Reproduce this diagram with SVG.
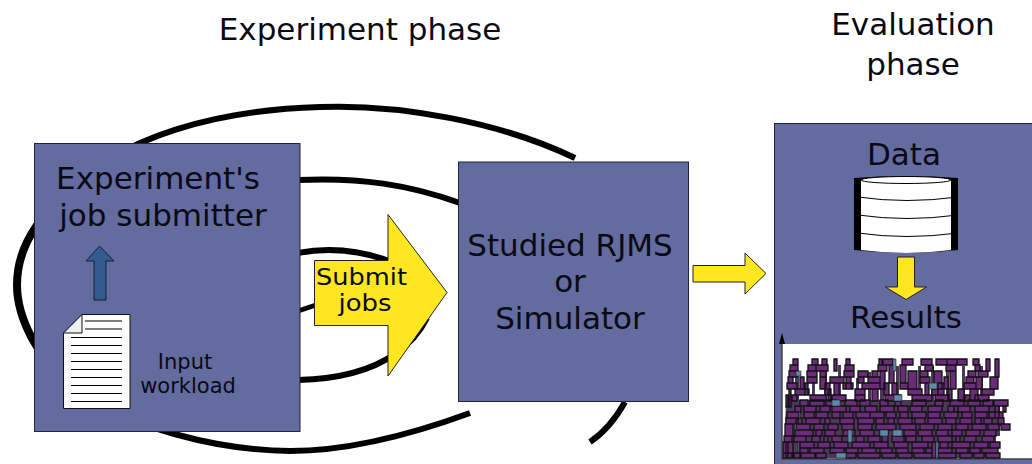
<svg xmlns="http://www.w3.org/2000/svg" width="1032" height="464" viewBox="0 0 1032 464">
<style>
text{font-family:"DejaVu Sans",sans-serif;fill:#0a0a14;text-anchor:middle}
.box{fill:#646b9f;stroke:#20233c;stroke-width:1}
.sp{fill:none;stroke:#000}
.y{fill:#fee620;stroke:#222;stroke-width:1}
.ln{stroke:#000;stroke-width:1;fill:none}
</style>
<rect width="1032" height="464" fill="#fff"/>
<g id="connectors">
<path class="sp" stroke-width="6" d="M575 158C500 122 400 104 320 107C220 110 120 135 65 195" />
<path class="sp" stroke-width="8" d="M65 195C30 225 17 255 17 285C17 320 40 360 70 385"/>
<path class="sp" stroke-width="6" d="M70 385C130 430 220 450 290 451C350 451 410 435 470 413"/>
<path class="sp" stroke-width="6" d="M590 442C605 432 616 418 625 402"/>
<path class="sp" stroke-width="6" d="M298 180C360 177 410 185 460 203"/>
<path class="sp" stroke-width="6" d="M298 253C330 247 360 250 392 262"/>
<path class="sp" stroke-width="6" d="M298 380C340 379 372 370 395 354C410 344 420 332 427 318"/>
<path class="sp" stroke-width="5" d="M298 311L316 305"/>
</g>
<g id="experiment-submitter">
<rect class="box" x="34.500" y="143.500" width="265.500" height="288"/>
<text x="158" y="189" font-size="31">Experiment's</text>
<text x="163" y="226" font-size="31">job submitter</text>
<path d="M94 300V261H86L99.700 246L114 261H106V300Z" fill="#355a8e" stroke="#14203c"/>
<path d="M63.500 333L82 314.500H130V408.500H63.500Z" fill="#fff" stroke="#111"/>
<path d="M63.500 333L82 314.500V333Z" fill="#f1f1f1" stroke="#111"/>
<path class="ln" d="M85 321H122M85 329H122M71 337.500H122M71 345.500H122M71 353.500H122M71 361.500H122M71 369.500H122M71 377.500H122M71 385.500H122M71 393.500H122M71 401.500H122"/>
<text x="185" y="369" font-size="21">Input</text>
<text x="188" y="393" font-size="21">workload</text>
</g>
<g id="submit-jobs">
<path class="y" d="M314.500 260.500H388V214.500L447 292.500L388 376V325.500H314.500Z"/>
<text x="361.500" y="285" font-size="23" textLength="91" lengthAdjust="spacingAndGlyphs">Submit</text>
<text x="365" y="311" font-size="23" textLength="53" lengthAdjust="spacingAndGlyphs">jobs</text>
</g>
<g id="studied-rjms">
<rect class="box" x="458.500" y="162" width="230" height="239.500"/>
<text x="570" y="256" font-size="31">Studied RJMS</text>
<text x="570" y="292" font-size="31">or</text>
<text x="570" y="329" font-size="31">Simulator</text>
</g>
<path class="y" d="M693 265.500H745V253L766 273.500L745 294V282H693Z"/>
<g id="evaluation">
<rect class="box" x="774.500" y="123.500" width="270" height="350"/>
<text x="904" y="165" font-size="31">Data</text>
<path d="M854 178Q906 174 958 178V250Q906 256 854 250Z" fill="#000"/>
<path d="M861 180V250Q906 256 951 250V180Z" fill="#fff"/>
<ellipse cx="906" cy="180" rx="45" ry="3.500" fill="#fff" stroke="#000"/>
<path class="ln" d="M858 197Q906 204 958 197M858 215Q906 222 958 215M858 233Q906 240 958 233"/>
<path d="M897.500 257H914.500V287H926.500L906 299.500L885.500 287H897.500Z" fill="#fee620" stroke="#222"/>
<text x="906" y="328" font-size="31">Results</text>
<rect x="782" y="344" width="250" height="115" fill="#fff"/>
<path d="M782 344V459H1032" fill="none" stroke="#444" stroke-width="1.500"/>
<path d="M782 344V336" stroke="#000" stroke-width="1"/>
<path d="M779 344L782 333L785 344Z" fill="#000"/>
<path fill="#4a3a58" d="M786 400h214v20h4v6h-4v10h-4v22h-212zM795 370h4v30h-4zM812 372h3v28h-3zM824 372h3v28h-3zM838 365h3v35h-3zM856 378h3v22h-3zM868 372h3v28h-3zM880 365h4v35h-4zM896 366h3v34h-3zM918 366h3v34h-3zM931 366h3v34h-3zM946 366h3v34h-3zM962 366h3v34h-3zM980 366h3v34h-3z"/>
<path fill="#6a2c78" stroke="#111" stroke-width="1.300" d="M793 359h5v6h-5zM812 359h6v6h-6zM822 359h5v6h-5zM834 359h3v12h-3zM846 359h4v6h-4zM879 359h3v6h-3zM883 359h10v6h-10zM902 359h11v6h-11zM921 359h11v6h-11zM936 359h11v6h-11zM947 359h10v6h-10zM957 359h10v6h-10zM973 359h6v6h-6zM986 359h4v12h-4zM995 359h4v18h-4z
M790 365h8v6h-8zM808 365h8v6h-8zM816 365h12v6h-12zM845 365h9v6h-9zM878 365h9v6h-9zM889 365h5v18h-5zM900 365h6v18h-6zM925 365h8v6h-8zM946 365h10v6h-10zM975 365h5v6h-5z
M789 371h8v6h-8zM807 371h10v6h-10zM820 371h6v6h-6zM844 371h10v6h-10zM858 371h10v6h-10zM872 371h6v6h-6zM880 371h5v18h-5zM908 371h9v18h-9zM920 371h8v6h-8zM934 371h8v18h-8zM950 371h6v18h-6zM968 371h8v6h-8zM978 371h10v6h-10z
M788 377h5v6h-5zM800 377h4v12h-4zM807 377h10v6h-10zM820 377h6v12h-6zM830 377h14v6h-14zM846 377h5v12h-5zM858 377h6v6h-6zM868 377h12v6h-12zM920 377h10v6h-10zM944 377h4v12h-4zM966 377h8v6h-8zM976 377h6v12h-6zM990 377h8v12h-8z
M787 383h10v6h-10zM805 383h3v12h-3zM825 383h5v12h-5zM834 383h5v12h-5zM843 383h10v6h-10zM862 383h18v6h-18zM884 383h5v12h-5zM892 383h5v12h-5zM900 383h8v6h-8zM925 383h4v12h-4zM938 383h6v12h-6zM964 383h12v6h-12z
M789 389h2v18h-2zM795 389h14v6h-14zM828 389h3v12h-3zM855 389h10v6h-10zM872 389h6v12h-6zM908 389h14v6h-14zM932 389h12v6h-12zM948 389h4v12h-4zM958 389h6v12h-6zM970 389h8v12h-8zM982 389h12v6h-12z
M786 395h2v12h-2zM792 395h5v6h-5zM810 395h16v6h-16zM832 395h14v6h-14zM855 395h10v6h-10zM885 395h16v6h-16zM912 395h20v6h-20zM935 395h14v6h-14zM965 395h5v6h-5zM975 395h14v6h-14z
M800 400h8v6h-8zM810 400h14v6h-14zM826 400h10v6h-10zM845 400h12v6h-12zM860 400h10v6h-10zM880 400h8v6h-8zM895 400h6v6h-6zM912 400h14v6h-14zM935 400h8v6h-8zM950 400h14v6h-14zM968 400h12v6h-12zM983 400h10v6h-10zM994 400h14v6h-14z
M795 406h6v6h-6zM804 406h12v6h-12zM820 406h10v6h-10zM832 406h14v6h-14zM850 406h10v6h-10zM865 406h12v6h-12zM880 406h14v6h-14zM898 406h10v6h-10zM910 406h12v6h-12zM928 406h14v6h-14zM948 406h6v6h-6zM958 406h12v6h-12zM975 406h14v6h-14zM995 406h4v12h-4zM1003 406h3v6h-3z
M787 412h12v6h-12zM804 412h10v6h-10zM816 412h12v6h-12zM832 412h8v6h-8zM843 412h10v6h-10zM856 412h14v6h-14zM870 412h14v6h-14zM886 412h10v6h-10zM900 412h8v6h-8zM912 412h14v6h-14zM928 412h12v6h-12zM944 412h14v6h-14zM962 412h10v6h-10zM975 412h12v6h-12zM989 412h14v6h-14z
M786 418h10v6h-10zM798 418h4v6h-4zM806 418h14v6h-14zM825 418h5v6h-5zM840 418h14v6h-14zM858 418h16v6h-16zM876 418h8v6h-8zM888 418h6v6h-6zM898 418h14v6h-14zM915 418h10v6h-10zM928 418h14v6h-14zM946 418h10v6h-10zM960 418h12v6h-12zM975 418h6v6h-6zM984 418h8v6h-8zM998 418h6v6h-6z
M785 424h8v12h-8zM796 424h14v6h-14zM814 424h10v6h-10zM828 424h10v6h-10zM842 424h12v6h-12zM858 424h14v6h-14zM876 424h20v6h-20zM900 424h16v6h-16zM920 424h14v6h-14zM938 424h14v6h-14zM956 424h12v6h-12zM972 424h14v6h-14zM988 424h11v6h-11zM1001 424h9v6h-9z
M795 430h18v6h-18zM816 430h6v6h-6zM825 430h10v6h-10zM843 430h12v6h-12zM860 430h14v6h-14zM880 430h8v12h-8zM904 430h12v6h-12zM918 430h14v6h-14zM936 430h12v6h-12zM952 430h10v6h-10zM966 430h14v6h-14zM984 430h12v6h-12z
M784 436h8v6h-8zM794 436h12v6h-12zM812 436h8v6h-8zM824 436h4v6h-4zM832 436h10v6h-10zM856 436h8v6h-8zM868 436h14v6h-14zM892 436h12v6h-12zM906 436h10v6h-10zM922 436h12v6h-12zM938 436h14v6h-14zM956 436h4v6h-4zM964 436h12v6h-12zM982 436h12v6h-12z
M783 442h3v16h-3zM788 442h5v16h-5zM800 442h14v6h-14zM818 442h12v6h-12zM834 442h14v6h-14zM852 442h18v6h-18zM874 442h14v6h-14zM894 442h14v6h-14zM912 442h16v6h-16zM932 442h4v16h-4zM940 442h8v6h-8zM952 442h18v6h-18zM974 442h14v6h-14zM990 442h10v6h-10z
M800 448h8v5h-8zM810 448h14v5h-14zM830 448h14v5h-14zM846 448h12v5h-12zM862 448h14v5h-14zM880 448h12v5h-12zM896 448h12v5h-12zM912 448h12v5h-12zM926 448h6v5h-6zM938 448h14v5h-14zM956 448h12v5h-12zM970 448h10v5h-10zM982 448h16v5h-16z
M783 453h9v5h-9zM794 453h6v5h-6zM801 453h14v5h-14zM816 453h10v5h-10zM846 453h10v5h-10zM858 453h22v5h-22zM882 453h14v5h-14zM898 453h14v5h-14zM914 453h18v5h-18zM938 453h18v5h-18zM960 453h12v5h-12zM974 453h10v5h-10zM986 453h14v5h-14z"/>
<path fill="#5f8aa8" stroke="#222" stroke-width=".6" d="M893 359h3v12h-3zM796 371h5v5h-5zM832 400h8v6h-8zM894 395h8v6h-8zM929 383h8v6h-8zM799 412h1v6h-1zM795 424h1v6h-1zM848 430h4v12h-4zM880 430h8v6h-8zM893 430h9v6h-9zM798 442h1v10h-1zM936 442h2v16h-2zM836 453h10v5h-10z"/>
</g>
<text x="360" y="40" font-size="31">Experiment phase</text>
<text x="913" y="35" font-size="31">Evaluation</text>
<text x="913" y="75" font-size="31">phase</text>
</svg>
